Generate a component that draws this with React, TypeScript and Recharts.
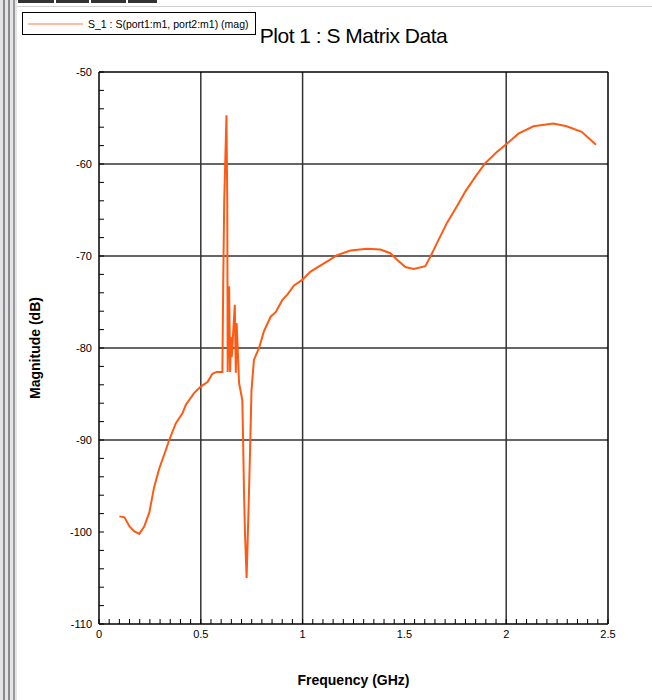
import { LineChart, Line, XAxis, YAxis, ReferenceLine, Legend } from 'recharts';

// S-parameter sweep: frequency (GHz) vs magnitude (dB)
const freqGHz = [
  0.1, 0.125, 0.15, 0.172, 0.198, 0.222, 0.247, 0.271, 0.296, 0.32, 0.345, 0.377, 0.41, 0.426,
  0.467, 0.5, 0.533, 0.557, 0.578, 0.606, 0.61, 0.615, 0.626, 0.63, 0.632, 0.639, 0.644, 0.647,
  0.652, 0.667, 0.672, 0.676, 0.688, 0.704, 0.708, 0.712, 0.717, 0.725, 0.734, 0.742, 0.749,
  0.761, 0.786, 0.81, 0.843, 0.868, 0.9, 0.925, 0.958, 0.998, 1.039, 1.105, 1.17, 1.235, 1.317,
  1.382, 1.431, 1.464, 1.505, 1.546, 1.603, 1.627, 1.66, 1.709, 1.758, 1.799, 1.848, 1.897,
  1.954, 2.003, 2.06, 2.134, 2.232, 2.297, 2.371, 2.441,
];
const magDb = [
  -98.3, -98.4, -99.4, -99.9, -100.2, -99.4, -97.9, -95.1, -93.1, -91.6, -90.0, -88.2, -87.1, -86.2,
  -84.9, -84.2, -83.7, -82.8, -82.6, -82.6, -73.2, -64.1, -54.7, -64.1, -82.6, -73.3, -82.6, -78.8,
  -81.0, -75.3, -82.7, -77.3, -83.8, -85.7, -90.3, -95.4, -100.1, -105.0, -97.9, -91.1, -84.6,
  -81.3, -80.0, -78.2, -76.6, -76.1, -74.8, -74.2, -73.2, -72.6, -71.7, -70.8, -69.9, -69.4, -69.2,
  -69.3, -69.7, -70.4, -71.2, -71.4, -71.1, -70.1, -68.6, -66.4, -64.6, -63.0, -61.4, -59.9,
  -58.7, -57.8, -56.7, -55.9, -55.6, -55.9, -56.5, -57.9,
];

const seriesName = 'S_1 : S(port1:m1, port2:m1) (mag)';

const xMajor = [0, 0.5, 1, 1.5, 2, 2.5];
const xMajorLabels = ['0', '0.5', '1', '1.5', '2', '2.5'];
const yMajor = [-110, -100, -90, -80, -70, -60, -50];
const xGrid = [0.5, 1, 2];
const yGrid = [-90, -80, -70, -60];

// minor ticks: 0.05 GHz and 2 dB
const xMinor: number[] = [];
for (let k = 0; k <= 50; k++) xMinor.push(Math.round(k * 5) / 100);
const yMinor: number[] = [];
for (let v = -110; v <= -50; v += 2) yMinor.push(v);

const data = freqGHz.map((f, i) => ({ f, mag: magDb[i] }));

const FONT = '"Liberation Sans", Arial, sans-serif';
const ORANGE = '#ff5a14';

function LegendBox() {
  return (
    <div
      style={{
        width: 234,
        height: 23,
        border: '1px solid #000',
        background: '#fff',
        display: 'flex',
        alignItems: 'center',
        fontFamily: FONT,
        fontSize: 10.5,
        color: '#000',
        boxSizing: 'border-box',
      }}
    >
      <svg width={62} height={10}>
        <line x1={5} y1={5} x2={60} y2={5} stroke="#ff7a48" strokeWidth={1.2} />
      </svg>
      <span style={{ marginLeft: 3, whiteSpace: 'nowrap' }}>{seriesName}</span>
    </div>
  );
}

export default function App() {
  return (
    <div
      style={{
        position: 'absolute',
        left: 0,
        top: 0,
        width: 652,
        height: 700,
        background: '#fff',
        overflow: 'hidden',
      }}
    >
      {/* window frame on the left and top */}
      <div style={{ position: 'absolute', left: 0, top: 0, width: 17, height: 700, background: '#e4e3e6' }} />
      <div style={{ position: 'absolute', left: 3, top: 0, width: 2, height: 700, background: '#8a8a8a' }} />
      <div style={{ position: 'absolute', left: 8, top: 0, width: 2, height: 700, background: '#8a8a8a' }} />
      <div style={{ position: 'absolute', left: 13, top: 0, width: 2, height: 700, background: '#9a9a9a' }} />
      <div style={{ position: 'absolute', left: 17, top: 6, width: 635, height: 1, background: '#cfcfcf' }} />
      {[[18, 36], [56, 33], [91, 35], [128, 29]].map(([l, w]) => (
        <div key={l} style={{ position: 'absolute', left: l, top: 0, width: w, height: 3, background: '#333' }} />
      ))}

      <div
        style={{
          position: 'absolute',
          left: 99,
          top: 24,
          width: 509,
          textAlign: 'center',
          fontFamily: FONT,
          fontSize: 21,
          color: '#000',
          letterSpacing: -0.5,
        }}
      >
        Plot 1 : S Matrix Data
      </div>

      <LineChart
        width={652}
        height={700}
        data={data}
        margin={{ top: 72, right: 44, bottom: 46, left: 39 }}
        style={{ position: 'absolute', left: 0, top: 0 }}
      >
        <XAxis
          dataKey="f"
          type="number"
          domain={[0, 2.5]}
          ticks={xMinor}
          interval={0}
          tickSize={-5}
          tickMargin={11}
          tickFormatter={(v: number) => {
            const i = xMajor.indexOf(v);
            return i >= 0 ? xMajorLabels[i] : '';
          }}
          tick={{ fill: '#000', fontSize: 11, fontFamily: FONT }}
          axisLine={{ stroke: '#000', strokeWidth: 1.5 }}
          tickLine={{ stroke: '#000', strokeWidth: 1 }}
          label={{
            value: 'Frequency (GHz)',
            position: 'bottom',
            offset: 21,
            style: { fontFamily: FONT, fontSize: 14, fontWeight: 'bold', fill: '#000' },
          }}
        />
        <YAxis
          type="number"
          domain={[-110, -50]}
          ticks={yMinor}
          interval={0}
          tickSize={-5}
          tickMargin={12}
          tickFormatter={(v: number) => (yMajor.includes(v) ? String(v) : '')}
          tick={{ fill: '#000', fontSize: 11, fontFamily: FONT }}
          axisLine={{ stroke: '#000', strokeWidth: 1.5 }}
          tickLine={{ stroke: '#000', strokeWidth: 1 }}
          label={{
            value: 'Magnitude (dB)',
            angle: -90,
            position: 'insideLeft',
            offset: -4,
            style: { textAnchor: 'middle', fontFamily: FONT, fontSize: 14, fontWeight: 'bold', fill: '#000' },
          }}
        />
        {yGrid.map((v) => (
          <ReferenceLine key={`y${v}`} y={v} stroke="#333" strokeWidth={1.5} />
        ))}
        {xGrid.map((v) => (
          <ReferenceLine key={`x${v}`} x={v} stroke="#333" strokeWidth={1.5} />
        ))}
        <ReferenceLine y={-50} stroke="#000" strokeWidth={1.5} />
        <ReferenceLine x={2.5} stroke="#000" strokeWidth={1.5} />
        <Legend
          layout="vertical"
          align="center"
          verticalAlign="middle"
          wrapperStyle={{ left: 22, top: 12, width: 234 }}
          content={() => <LegendBox />}
        />
        <Line
          type="linear"
          dataKey="mag"
          name={seriesName}
          stroke={ORANGE}
          strokeWidth={2}
          dot={false}
          activeDot={false}
          isAnimationActive={false}
        />
      </LineChart>
    </div>
  );
}
